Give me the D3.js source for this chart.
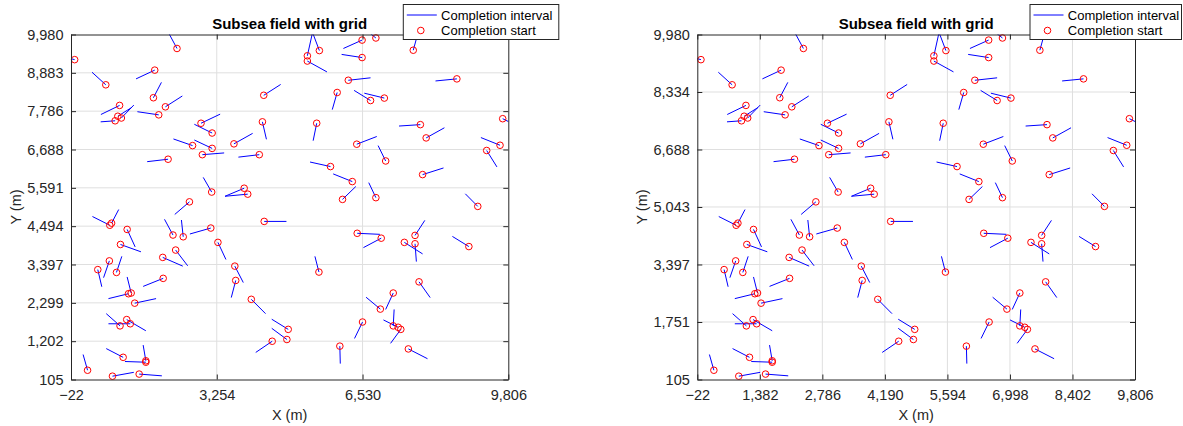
<!DOCTYPE html>
<html>
<head>
<meta charset="utf-8">
<script src="https://cdn.jsdelivr.net/npm/d3@7"></script>
<style>
  body { margin: 0; background: #fff; }
  svg { display: block; font-family: "Liberation Sans", Arial, Helvetica, sans-serif; }
</style>
</head>
<body>
<div id="chart"></div>
<script>
// completion start points (m)
var startX = [60, 2360, 760, 1860, 1830, 1070, 2100, 1950, 970, 1030, 1110, 2900, 3150, 2710, 3150, 2930, 2160, 3140, 3870, 3950,
  2640, 3640, 4210, 4280, 4310, 5500, 5290, 5290, 5560, 6520, 6830, 6520, 6210, 5960, 6710, 7020, 7670, 8650, 7830, 7960,
  9680, 9620, 9320, 6400, 7050, 5810, 6300, 7880, 6080, 6830, 9120, 890, 850, 1240, 1090, 840, 580, 1000, 2040, 2330,
  2270, 2500, 3120, 3280, 2050, 1270, 1330, 1410, 1080, 1310, 1230, 1150, 1660, 1660, 350, 910, 1510, 3660, 3680, 4030,
  4860, 4830, 4500, 4320, 6410, 6950, 7710, 7470, 7710, 8920, 5550, 7800, 7220, 6930, 6530, 7220, 7330, 7390, 6020, 7560];
var startY = [9260, 9580, 8540, 8960, 8170, 7950, 7910, 7680, 7510, 7640, 7590, 7440, 7160, 6800, 6720, 6540, 6410, 5470, 5580, 5410,
  5190, 6850, 6540, 7480, 8240, 7440, 9370, 9220, 9520, 9820, 9880, 9320, 8670, 8320, 8090, 8160, 9530, 8710, 7400, 7020,
  7570, 6810, 6660, 6840, 6360, 6200, 5770, 5970, 5260, 5310, 5060, 4580, 4520, 4400, 3970, 3500, 3250, 3170, 3600, 3810,
  4240, 4190, 4440, 4030, 3000, 2560, 2580, 2290, 1640, 1700, 1820, 740, 640, 600, 370, 200, 260, 3350, 2940, 2400,
  1540, 1250, 1200, 4630, 4290, 4150, 4230, 4030, 3990, 3910, 3180, 2900, 2580, 2120, 1750, 1640, 1600, 1540, 1060, 980];
// completion end points (m)
var endX = [-150, 2170, 450, 1440, 2010, 650, 2480, 1470, 645, 1340, 1390, 3330, 2750, 2280, 2750, 3420, 1690, 2950, 3440, 3440,
  2310, 4060, 3740, 4370, 4690, 5420, 5410, 5730, 5400, 6100, 6710, 6060, 6710, 5850, 6340, 6570, 7750, 8170, 7350, 8370,
  9900, 9190, 9550, 6850, 6880, 5350, 5870, 8350, 6380, 6670, 8840, 1050, 460, 1420, 1550, 710, 670, 1120, 2490, 2600,
  2080, 2460, 2650, 3460, 1600, 820, 1240, 1890, 770, 820, 1660, 770, 1600, 1190, 250, 1390, 2020, 3850, 3580, 4350,
  4490, 4490, 4130, 4820, 6920, 6550, 7930, 7880, 7740, 8550, 5460, 8050, 7050, 6610, 6350, 7240, 7000, 7160, 6030, 7990];
var endY = [9330, 10030, 8900, 8710, 8610, 7690, 8220, 7770, 7480, 7890, 7960, 7700, 7410, 6990, 6960, 6590, 6340, 5890, 5350, 5350,
  4830, 7150, 6470, 6980, 8550, 6940, 10060, 8910, 10060, 9580, 10000, 9410, 8740, 7830, 8380, 8300, 9900, 8650, 7360, 7310,
  7430, 7030, 6190, 7060, 6800, 6330, 5990, 6160, 5630, 5740, 5420, 4970, 4770, 3900, 3760, 3020, 2760, 3630, 3350, 3360,
  4690, 4670, 4270, 3540, 2770, 2420, 3040, 2420, 1990, 1700, 1500, 990, 1090, 620, 820, 310, 210, 2880, 2450, 1990,
  1830, 1570, 880, 4630, 4260, 3880, 4660, 3700, 3480, 4200, 3630, 2450, 2110, 2460, 1280, 2110, 1810, 1140, 560, 700];

var xLimits = [-22, 9806];
var yLimits = [105, 9980];
var leftXTicks = [-22, 3254, 6530, 9806];
var leftYTicks = [105, 1202, 2299, 3397, 4494, 5591, 6688, 7786, 8883, 9980];
var rightXTicks = [-22, 1382, 2786, 4190, 5594, 6998, 8402, 9806];
var rightYTicks = [105, 1751, 3397, 5043, 6688, 8334, 9980];

var titleText = 'Subsea field with grid';
var legendLabels = ['Completion interval', 'Completion start'];

var formatTick = d3.format(',');
var axisColor = '#262626';

var segments = startX.map(function(d, i) {
  return { x0: d, y0: startY[i], x1: endX[i], y1: endY[i] };
});

var svg = d3.select('#chart').append('svg')
    .attr('width', 1183)
    .attr('height', 426);

function drawPanel(p) {
  var x = d3.scaleLinear().domain(xLimits).range([p.left, p.right]);
  var y = d3.scaleLinear().domain(yLimits).range([p.bottom, p.top]);

  var g = svg.append('g').attr('class', 'panel-' + p.id);

  // grid
  g.append('g').selectAll('line')
      .data(p.xTicks.slice(1, -1))
      .enter().append('line')
      .attr('x1', function(d) { return x(d); })
      .attr('x2', function(d) { return x(d); })
      .attr('y1', p.top)
      .attr('y2', p.bottom)
      .attr('stroke', '#dfdfdf')
      .attr('stroke-width', 1);

  g.append('g').selectAll('line')
      .data(p.yTicks.slice(1, -1))
      .enter().append('line')
      .attr('x1', p.left)
      .attr('x2', p.right)
      .attr('y1', function(d) { return y(d); })
      .attr('y2', function(d) { return y(d); })
      .attr('stroke', '#dfdfdf')
      .attr('stroke-width', 1);

  g.append('clipPath')
      .attr('id', 'clip-' + p.id)
      .append('rect')
      .attr('x', p.left)
      .attr('y', p.top)
      .attr('width', p.right - p.left)
      .attr('height', p.bottom - p.top);

  // completion intervals
  g.append('g')
      .attr('clip-path', 'url(#clip-' + p.id + ')')
      .selectAll('line')
      .data(segments)
      .enter().append('line')
      .attr('x1', function(d) { return x(d.x0); })
      .attr('y1', function(d) { return y(d.y0); })
      .attr('x2', function(d) { return x(d.x1); })
      .attr('y2', function(d) { return y(d.y1); })
      .attr('stroke', '#0000ff')
      .attr('stroke-width', 1);

  // completion starts
  g.append('g').selectAll('circle')
      .data(segments)
      .enter().append('circle')
      .attr('cx', function(d) { return x(d.x0); })
      .attr('cy', function(d) { return y(d.y0); })
      .attr('r', 3.3)
      .attr('fill', 'none')
      .attr('stroke', '#ff0000')
      .attr('stroke-width', 1);

  // axes, ticks pointing inward
  var bottomAxis = g.append('g')
      .attr('transform', 'translate(0,' + p.bottom + ')')
      .call(d3.axisBottom(x).tickValues(p.xTicks).tickFormat(formatTick)
              .tickSizeInner(-5).tickSizeOuter(0).tickPadding(10));
  var leftAxis = g.append('g')
      .attr('transform', 'translate(' + p.left + ',0)')
      .call(d3.axisLeft(y).tickValues(p.yTicks).tickFormat(formatTick)
              .tickSizeInner(-5).tickSizeOuter(0).tickPadding(7.5));
  var topAxis = g.append('g')
      .attr('transform', 'translate(0,' + p.top + ')')
      .call(d3.axisTop(x).tickValues(p.xTicks).tickFormat('')
              .tickSizeInner(-5).tickSizeOuter(0));
  var rightAxis = g.append('g')
      .attr('transform', 'translate(' + p.right + ',0)')
      .call(d3.axisRight(y).tickValues(p.yTicks).tickFormat('')
              .tickSizeInner(-5).tickSizeOuter(0));

  [bottomAxis, leftAxis, topAxis, rightAxis].forEach(function(a) {
    a.attr('color', axisColor)
        .attr('font-family', null)
        .attr('font-size', 14.5);
  });

  g.append('text')
      .attr('x', (p.left + p.right) / 2)
      .attr('y', 29)
      .attr('text-anchor', 'middle')
      .attr('font-weight', 'bold')
      .attr('font-size', 15)
      .attr('fill', '#000')
      .text(titleText);

  g.append('text')
      .attr('x', (p.left + p.right) / 2)
      .attr('y', 420)
      .attr('text-anchor', 'middle')
      .attr('font-size', 14.5)
      .attr('fill', axisColor)
      .text('X (m)');

  g.append('text')
      .attr('transform', 'translate(' + (p.left - 50.5) + ',' + ((p.top + p.bottom) / 2) + ') rotate(-90)')
      .attr('text-anchor', 'middle')
      .attr('font-size', 14.5)
      .attr('fill', axisColor)
      .text('Y (m)');

  // legend
  var lx = p.right - 105.5;
  var legend = g.append('g')
      .attr('transform', 'translate(' + lx + ',4)');

  legend.append('rect')
      .attr('x', 0.5)
      .attr('y', 0.5)
      .attr('width', p.legendWidth)
      .attr('height', 35)
      .attr('fill', '#fff')
      .attr('stroke', axisColor)
      .attr('stroke-width', 1);

  legend.append('line')
      .attr('x1', 4)
      .attr('x2', 34)
      .attr('y1', 11)
      .attr('y2', 11)
      .attr('stroke', '#0000ff')
      .attr('stroke-width', 1);

  legend.append('circle')
      .attr('cx', 18)
      .attr('cy', 26.5)
      .attr('r', 3.3)
      .attr('fill', 'none')
      .attr('stroke', '#ff0000')
      .attr('stroke-width', 1);

  legend.selectAll('text.lbl')
      .data(legendLabels)
      .enter().append('text')
      .attr('class', 'lbl')
      .attr('x', 38.3)
      .attr('y', function(d, i) { return 15.5 + i * 15.5; })
      .attr('font-size', 13)
      .attr('fill', '#000')
      .text(function(d) { return d; });
}

drawPanel({ id: 'a', left: 71, right: 508.3, top: 34.5, bottom: 379.5,
            xTicks: leftXTicks, yTicks: leftYTicks, legendWidth: 155.5 });
drawPanel({ id: 'b', left: 697.3, right: 1135, top: 34.5, bottom: 379.5,
            xTicks: rightXTicks, yTicks: rightYTicks, legendWidth: 151.5 });
</script>
</body>
</html>
